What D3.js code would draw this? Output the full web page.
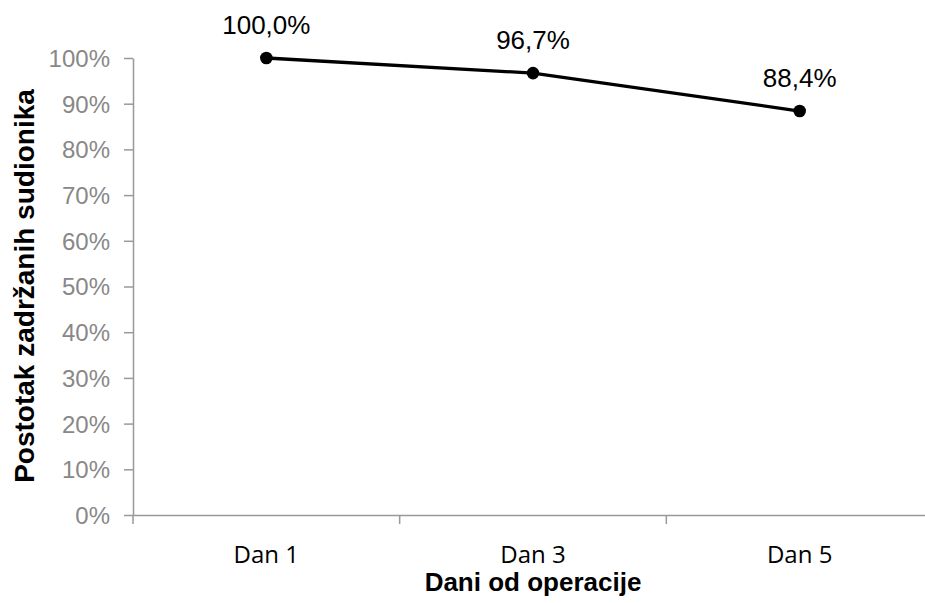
<!DOCTYPE html>
<html><head><meta charset="utf-8">
<script src="https://cdn.jsdelivr.net/npm/d3@7"></script>
<style>body{margin:0;background:#fff}</style>
</head><body>
<svg id="c" width="925" height="603"></svg>
<script>
const categories = ["Dan 1", "Dan 3", "Dan 5"];
const values = [1.000, 0.967, 0.884];
const valueLabels = ["100,0%", "96,7%", "88,4%"];
const yTicks = [0,0.1,0.2,0.3,0.4,0.5,0.6,0.7,0.8,0.9,1.0];

const svg = d3.select("#c");
const x = d3.scaleBand().domain(categories).range([133, 933]);
const y = d3.scaleLinear().domain([0, 1]).range([515, 58]);
const axisColor = "#999";
const arial = "'Liberation Sans', Arial, sans-serif";

// y axis
const ya = svg.append("g").attr("transform", "translate(133,0)")
  .call(d3.axisLeft(y).tickValues(yTicks).tickFormat(d => Math.round(d*100) + "%").tickSize(9).tickSizeOuter(0).tickPadding(14));
ya.select(".domain").attr("stroke", axisColor).attr("stroke-width", 1.5);
ya.selectAll(".tick line").attr("stroke", axisColor).attr("stroke-width", 1.5);
ya.selectAll(".tick text").attr("fill", "#888").attr("font-family", arial).attr("font-size", 24).attr("dy", "0.35em");

// x axis
const xa = svg.append("g").attr("transform", "translate(0,515)")
  .call(d3.axisBottom(x).tickSize(0).tickPadding(0));
xa.select(".domain").attr("stroke", axisColor).attr("stroke-width", 1.5);
xa.selectAll(".tick text").attr("fill", "#000").attr("font-family", "'Open Sans', sans-serif").attr("font-size", 24).attr("dy", null).attr("y", 48);
// boundary ticks
const bounds = categories.map(c => x(c)).concat([x.range()[1]]);
svg.append("g").selectAll("line").data(bounds).join("line")
  .attr("x1", d => d).attr("x2", d => d).attr("y1", 515).attr("y2", 524)
  .attr("stroke", axisColor).attr("stroke-width", 1.5);

// line
const cx = (d, i) => x(categories[i]) + x.bandwidth() / 2;
svg.append("path").datum(values)
  .attr("d", d3.line().x(cx).y(d => y(d)))
  .attr("fill", "none").attr("stroke", "#000").attr("stroke-width", 3.3);
svg.append("g").selectAll("circle").data(values).join("circle")
  .attr("cx", cx).attr("cy", d => y(d)).attr("r", 6.3).attr("fill", "#000");
svg.append("g").selectAll("text").data(values).join("text")
  .attr("x", cx).attr("y", d => y(d) - 24)
  .attr("text-anchor", "middle")
  .attr("font-family", arial).attr("font-size", 26)
  .text((d, i) => valueLabels[i]);

// titles
svg.append("text").attr("transform", "translate(34,286) rotate(-90)")
  .attr("text-anchor", "middle")
  .attr("font-family", arial).attr("font-size", 28).attr("font-weight", "bold")
  .text("Postotak zadržanih sudionika");
svg.append("text").attr("x", 533).attr("y", 591)
  .attr("text-anchor", "middle")
  .attr("font-family", arial).attr("font-size", 26).attr("font-weight", "bold")
  .text("Dani od operacije");
</script>
</body></html>
